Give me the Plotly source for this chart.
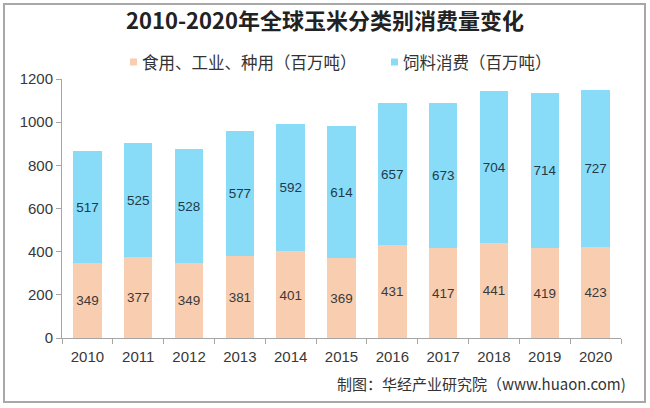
import plotly.graph_objects as go

years = ["2010", "2011", "2012", "2013", "2014", "2015", "2016", "2017", "2018", "2019", "2020"]
food_industry_seed = [349, 377, 349, 381, 401, 369, 431, 417, 441, 419, 423]
feed = [517, 525, 528, 577, 592, 614, 657, 673, 704, 714, 727]
y_ticks = [0, 200, 400, 600, 800, 1000, 1200]
series_names = ["食用、工业、种用（百万吨）", "饲料消费（百万吨）"]
series_colors = ["#F8CDB0", "#88DCF7"]

font_cn = "Noto Sans CJK SC, Liberation Sans, sans-serif"
font_num = "Liberation Sans, Arial, sans-serif"

W, H = 650, 408
L, R, T, B = 62, 29, 79, 70
pw, ph = W - L - R, H - T - B


def px_x(x):
    return (x - L) / pw


def px_y(y):
    return (H - B - y) / ph


fig = go.Figure()
fig.add_trace(go.Bar(
    x=years, y=food_industry_seed, name=series_names[0],
    marker=dict(color=series_colors[0], line=dict(width=0)),
    text=food_industry_seed, textposition="inside", insidetextanchor="middle", textangle=0,
    textfont=dict(family=font_num, size=15, color="#3a3a3a"), width=0.56,
))
fig.add_trace(go.Bar(
    x=years, y=feed, name=series_names[1],
    marker=dict(color=series_colors[1], line=dict(width=0)),
    text=feed, textposition="inside", insidetextanchor="middle", textangle=0,
    textfont=dict(family=font_num, size=15, color="#1f3a4a"), width=0.56,
))

shapes = [dict(type="rect", xref="paper", yref="paper", x0=px_x(4), x1=px_x(645), y0=px_y(402), y1=px_y(4),
               line=dict(color="#A8A8A8", width=2), fillcolor="rgba(0,0,0,0)", layer="below")]
annotations = []
# manual legend
legend_pos = [(130, 140), (391, 401)]
for name, color, (mx, tx) in zip(series_names, series_colors, legend_pos):
    shapes.append(dict(type="rect", xref="paper", yref="paper", x0=px_x(mx), x1=px_x(mx + 7),
                       y0=px_y(65.5), y1=px_y(58.5), line=dict(width=0), fillcolor=color))
    annotations.append(dict(text=name, xref="paper", yref="paper", x=px_x(tx), xanchor="left",
                            y=px_y(62), yanchor="middle", showarrow=False,
                            font=dict(family=font_cn, size=16.5, color="#333333")))
# source
annotations.append(dict(text="制图：华经产业研究院（www.huaon.com)", xref="paper", yref="paper",
                        x=px_x(628), xanchor="right", y=px_y(383), yanchor="middle", showarrow=False,
                        font=dict(family=font_cn, size=15, color="#333333")))

fig.update_layout(
    barmode="stack",
    width=W, height=H,
    margin=dict(l=L, r=R, t=T, b=B, autoexpand=False),
    paper_bgcolor="white", plot_bgcolor="white",
    title=dict(text="<b>2010-2020年全球玉米分类别消费量变化</b>", x=0.5, xanchor="center",
               xref="container", yref="container", y=1 - 21 / H, yanchor="middle",
               font=dict(family=font_cn, size=22, color="#222222")),
    showlegend=False,
    uniformtext=dict(mode="show", minsize=10),
    xaxis=dict(type="category", showline=True, linecolor="#A6A6A6", linewidth=1,
               ticks="outside", ticklen=5, tickcolor="#A6A6A6", tickson="boundaries",
               ticklabelstandoff=5,
               tickfont=dict(family=font_num, size=15, color="#383838"),
               showgrid=False),
    yaxis=dict(range=[0, 1200], tickvals=y_ticks, showline=True, linecolor="#A6A6A6",
               linewidth=1, ticks="outside", ticklen=5, tickcolor="#A6A6A6",
               tickfont=dict(family=font_num, size=15, color="#383838"),
               showgrid=False, zeroline=False),
    shapes=shapes,
    annotations=annotations,
)

fig.write_html("out.html", config={"displayModeBar": False},
               post_script="document.body.style.margin='0px';")
